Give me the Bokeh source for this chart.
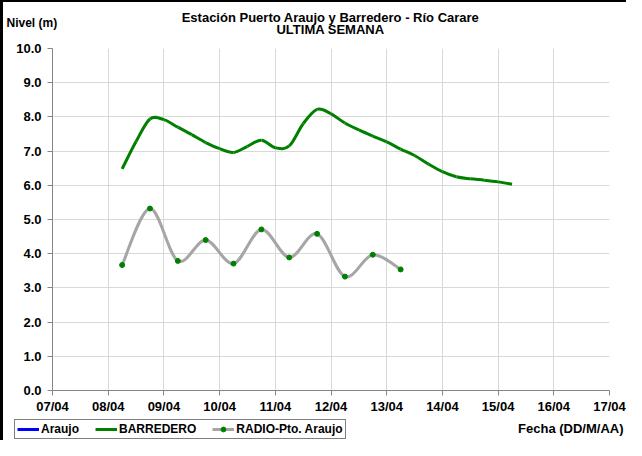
from bokeh.plotting import figure
from bokeh.layouts import column
from bokeh.models import (Range1d, FixedTicker, DatetimeTickFormatter, Label,
                          Legend, LegendItem, NumeralTickFormatter)
from bokeh.embed import file_html
from bokeh.resources import INLINE
import pandas as pd

# ---------------- data ----------------
title_text = "Estación Puerto Araujo y Barredero - Río Carare"
subtitle_text = "ULTIMA SEMANA"
y_label = "Nivel (m)"
x_label = "Fecha (DD/M/AA)"
series_names = ["Araujo", "BARREDERO", "RADIO-Pto. Araujo"]

tick_dates = ["2023-04-07", "2023-04-08", "2023-04-09", "2023-04-10", "2023-04-11",
              "2023-04-12", "2023-04-13", "2023-04-14", "2023-04-15", "2023-04-16",
              "2023-04-17"]

araujo_time = []
araujo_level = []

barredero_time = ["2023-04-08 06:00", "2023-04-08 12:00", "2023-04-08 18:00",
                  "2023-04-09 00:00", "2023-04-09 06:00", "2023-04-09 12:00",
                  "2023-04-09 18:00", "2023-04-10 00:00", "2023-04-10 06:00",
                  "2023-04-10 12:00", "2023-04-10 18:00", "2023-04-11 00:00",
                  "2023-04-11 06:00", "2023-04-11 12:00", "2023-04-11 18:00",
                  "2023-04-12 00:00", "2023-04-12 06:00", "2023-04-12 12:00",
                  "2023-04-12 18:00", "2023-04-13 00:00", "2023-04-13 06:00",
                  "2023-04-13 12:00", "2023-04-13 18:00", "2023-04-14 00:00",
                  "2023-04-14 06:00", "2023-04-14 12:00", "2023-04-14 18:00",
                  "2023-04-15 00:00", "2023-04-15 06:00"]
barredero_level = [6.48, 7.28, 7.94, 7.92, 7.70, 7.48, 7.25, 7.07, 6.96, 7.14,
                   7.32, 7.10, 7.15, 7.80, 8.22, 8.09, 7.82, 7.62, 7.44, 7.27,
                   7.06, 6.87, 6.62, 6.40, 6.25, 6.19, 6.15, 6.10, 6.03]

radio_time = ["2023-04-08 06:00", "2023-04-08 18:00", "2023-04-09 06:00",
              "2023-04-09 18:00", "2023-04-10 06:00", "2023-04-10 18:00",
              "2023-04-11 06:00", "2023-04-11 18:00", "2023-04-12 06:00",
              "2023-04-12 18:00", "2023-04-13 06:00"]
radio_level = [3.67, 5.32, 3.79, 4.40, 3.71, 4.71, 3.89, 4.58, 3.33, 3.97, 3.54]

y_ticks = [0, 1, 2, 3, 4, 5, 6, 7, 8, 9, 10]

COL_ARAUJO = "#0000ff"
COL_BARREDERO = "#008000"
COL_RADIO = "#a6a6a6"
COL_MARK = "#008000"


def to_ms(values):
    idx = pd.to_datetime(pd.Series(values, dtype="object"))
    return ((idx - pd.Timestamp("1970-01-01")) // pd.Timedelta(milliseconds=1)).tolist()


def smooth_segments(xs, ys):
    """Bezier control points of a smoothed (Catmull-Rom) path through the points."""
    n = len(xs)
    seg = dict(x0=[], y0=[], x1=[], y1=[], cx0=[], cy0=[], cx1=[], cy1=[])
    for i in range(n - 1):
        a = max(i - 1, 0)
        b = min(i + 2, n - 1)
        seg["x0"].append(xs[i]); seg["y0"].append(ys[i])
        seg["x1"].append(xs[i + 1]); seg["y1"].append(ys[i + 1])
        seg["cx0"].append(xs[i] + (xs[i + 1] - xs[a]) / 6)
        seg["cy0"].append(ys[i] + (ys[i + 1] - ys[a]) / 6)
        seg["cx1"].append(xs[i + 1] - (xs[b] - xs[i]) / 6)
        seg["cy1"].append(ys[i + 1] - (ys[b] - ys[i]) / 6)
    return seg


tick_ms = to_ms(tick_dates)
bar_ms = to_ms(barredero_time)
rad_ms = to_ms(radio_time)
ara_ms = to_ms(araujo_time) if araujo_time else []

FONT = "Liberation Sans"
BL, BT = 3, 2                      # outer frame: left / top border widths
W = 626 - BL
H_HEAD, H_MAIN, H_FOOT = 41 - BT, 375, 24
NAN = [float("nan")]   # legend proxies: nothing is drawn, only the legend sample


def blank(height):
    f = figure(width=W, height=height, output_backend="svg", toolbar_location=None,
               x_axis_location=None, y_axis_location=None,
               x_range=Range1d(0, 1), y_range=Range1d(0, 1),
               min_border=0, min_border_left=0, min_border_right=0,
               min_border_top=0, min_border_bottom=0, frame_align=False)
    f.grid.visible = False
    f.outline_line_color = None
    f.background_fill_color = "white"
    f.border_fill_color = "white"
    return f


label_kw = dict(x_units="screen", y_units="screen", text_font=FONT,
                text_font_style="bold", text_color="black", text_baseline="middle")

# ---------------- header ----------------
head = blank(H_HEAD)
head.add_layout(Label(x=330 - BL, y=H_HEAD - (16.5 - BT), text=title_text,
                      text_align="center", text_font_size="13px", **label_kw))
head.add_layout(Label(x=330 - BL, y=H_HEAD - (28.5 - BT), text=subtitle_text,
                      text_align="center", text_font_size="13px", **label_kw))
head.add_layout(Label(x=6 - BL, y=H_HEAD - (22.5 - BT), text=y_label,
                      text_align="left", text_font_size="12px", **label_kw))

# ---------------- main plot ----------------
p = figure(width=W, height=H_MAIN, x_axis_type="datetime",
           output_backend="svg", toolbar_location=None,
           x_range=Range1d(tick_ms[0], tick_ms[-1]), y_range=Range1d(0, 10),
           min_border_left=52 - BL, min_border_right=17, min_border_top=7,
           min_border_bottom=24, frame_align=False)
p.outline_line_color = None
p.background_fill_color = "white"
p.border_fill_color = "white"

p.xaxis.ticker = FixedTicker(ticks=tick_ms)
p.xaxis.formatter = DatetimeTickFormatter(days="%d/%m", months="%d/%m", hours="%d/%m",
                                          years="%d/%m")
p.yaxis.ticker = FixedTicker(ticks=y_ticks)
p.yaxis.formatter = NumeralTickFormatter(format="0.0")
for ax in (p.xaxis[0], p.yaxis[0]):
    ax.axis_line_color = "#868686"
    ax.major_tick_line_color = "#868686"
    ax.major_tick_out = 5
    ax.major_tick_in = 0
    ax.minor_tick_line_color = None
    ax.major_label_text_font = FONT
    ax.major_label_text_font_style = "bold"
    ax.major_label_text_font_size = "13px"
    ax.major_label_text_color = "black"
p.yaxis.major_label_standoff = 6
p.xaxis.major_label_standoff = 3

p.xgrid.ticker = FixedTicker(ticks=tick_ms)
p.ygrid.ticker = FixedTicker(ticks=y_ticks)
p.grid.grid_line_color = "#d9d9d9"
p.grid.grid_line_width = 1

p.line(x=ara_ms, y=araujo_level, line_color=COL_ARAUJO, line_width=3)

bs = smooth_segments(bar_ms, barredero_level)
p.bezier(x0=bs["x0"], y0=bs["y0"], x1=bs["x1"], y1=bs["y1"],
         cx0=bs["cx0"], cy0=bs["cy0"], cx1=bs["cx1"], cy1=bs["cy1"],
         line_color=COL_BARREDERO, line_width=3)

rs = smooth_segments(rad_ms, radio_level)
p.bezier(x0=rs["x0"], y0=rs["y0"], x1=rs["x1"], y1=rs["y1"],
         cx0=rs["cx0"], cy0=rs["cy0"], cx1=rs["cx1"], cy1=rs["cy1"],
         line_color=COL_RADIO, line_width=3)
p.scatter(x=rad_ms, y=radio_level, size=5, marker="circle",
          fill_color=COL_MARK, line_color=COL_MARK)

# ---------------- footer (legend + x label) ----------------
foot = blank(H_FOOT)
l_ara = foot.line(x=NAN, y=NAN, line_color=COL_ARAUJO, line_width=3)
l_bar = foot.line(x=NAN, y=NAN, line_color=COL_BARREDERO, line_width=3)
l_rad = foot.line(x=NAN, y=NAN, line_color=COL_RADIO, line_width=3)
l_rad_m = foot.scatter(x=NAN, y=NAN, size=4, marker="circle",
                       fill_color=COL_MARK, line_color=COL_MARK)
legend = Legend(items=[LegendItem(label=series_names[0], renderers=[l_ara]),
                       LegendItem(label=series_names[1], renderers=[l_bar]),
                       LegendItem(label=series_names[2], renderers=[l_rad, l_rad_m])],
                orientation="horizontal", location=(14 - BL, 1),
                label_text_font=FONT, label_text_font_style="bold",
                label_text_font_size="12px", label_text_color="black",
                glyph_width=22, glyph_height=12, label_standoff=2, spacing=16,
                padding=2, margin=0, label_height=12,
                border_line_color="black", border_line_width=1,
                background_fill_color="white", background_fill_alpha=1)
foot.add_layout(legend, "center")
foot.add_layout(Label(x=623 - BL, y=H_FOOT - 12, text=x_label, text_align="right",
                      text_font_size="13px", **label_kw))

layout = column(head, p, foot, spacing=0,
                styles={"border-left": f"{BL}px solid #000",
                        "border-top": f"{BT}px solid #000"})
open("out.html", "w").write(file_html(layout, INLINE))
